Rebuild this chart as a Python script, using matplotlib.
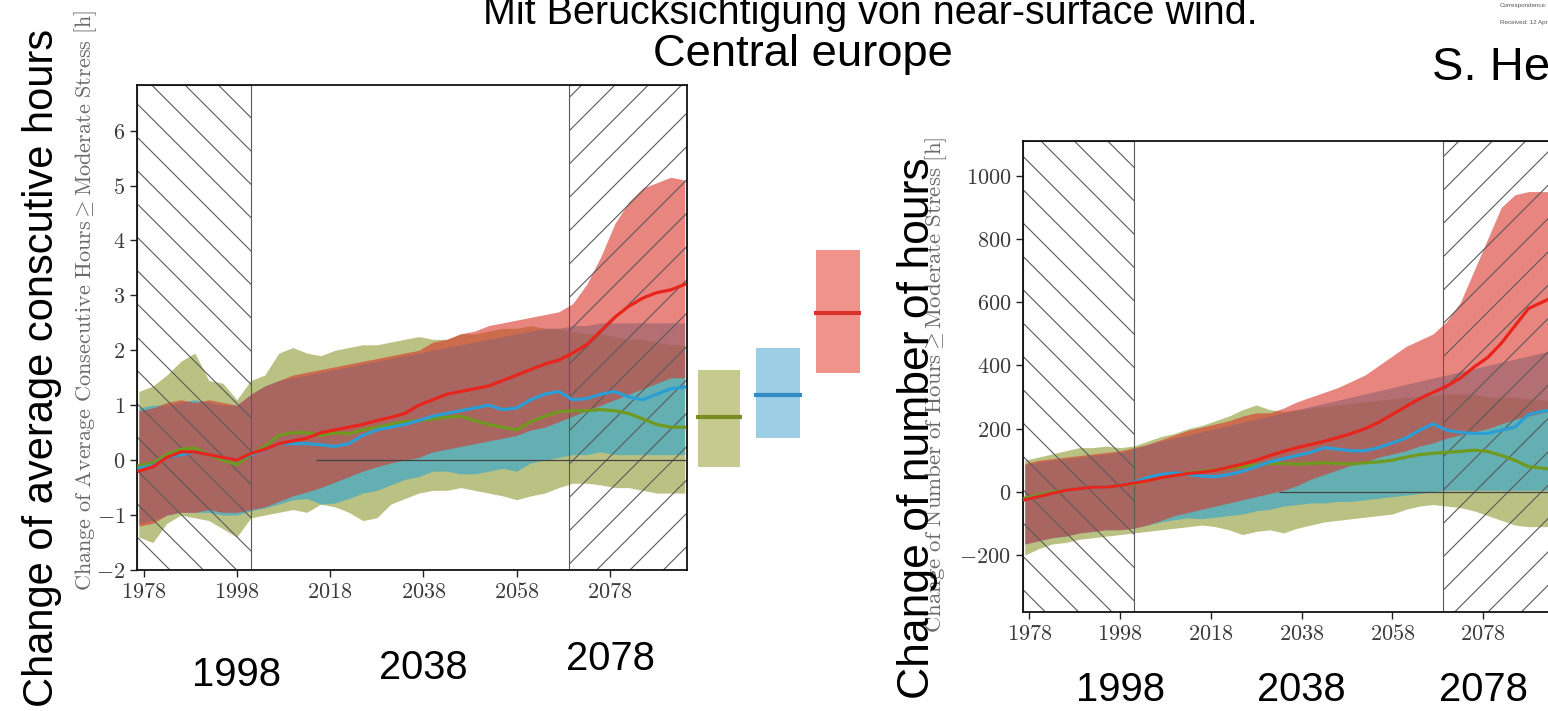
import numpy as np
import matplotlib
matplotlib.use('Agg')
import matplotlib.pyplot as plt
from matplotlib import font_manager
from matplotlib.ticker import FuncFormatter, MultipleLocator
from matplotlib.patches import Rectangle
from matplotlib.transforms import blended_transform_factory

plt.rcParams['mathtext.fontset'] = 'cm'
plt.rcParams['hatch.linewidth'] = 0.8

names = {f.name for f in font_manager.fontManager.ttflist}
NARROW = 'Liberation Sans Narrow' if 'Liberation Sans Narrow' in names else 'Liberation Sans'
SANS = 'Liberation Sans'

# ---------------- data ----------------
years = [1977, 1980, 1983, 1986, 1989, 1992, 1995, 1998, 2001, 2004,
         2007, 2010, 2013, 2016, 2019, 2022, 2025, 2028, 2031, 2034,
         2037, 2040, 2043, 2046, 2049, 2052, 2055, 2058, 2061, 2064,
         2067, 2070, 2073, 2076, 2079, 2082, 2085, 2088, 2091, 2094]

# left panel: average consecutive hours
cons_olive_lo = [-1.4, -1.5, -1.15, -1.0, -1.05, -1.1, -1.25, -1.4, -1.05, -1.0,
                 -0.95, -0.9, -0.95, -0.8, -0.85, -0.95, -1.1, -1.05, -0.8, -0.7,
                 -0.6, -0.55, -0.55, -0.5, -0.55, -0.6, -0.65, -0.72, -0.65, -0.6,
                 -0.5, -0.42, -0.42, -0.45, -0.5, -0.5, -0.55, -0.6, -0.6, -0.6]
cons_olive_hi = [1.25, 1.35, 1.55, 1.8, 1.95, 1.45, 1.4, 1.1, 1.45, 1.55,
                 1.95, 2.05, 1.95, 1.9, 2.0, 2.05, 2.1, 2.1, 2.15, 2.2,
                 2.25, 2.2, 2.2, 2.3, 2.3, 2.35, 2.4, 2.4, 2.45, 2.4,
                 2.4, 2.35, 2.3, 2.3, 2.25, 2.2, 2.2, 2.15, 2.1, 2.1]
cons_blue_lo = [-1.15, -1.1, -1.0, -0.95, -0.95, -0.95, -1.0, -1.0, -0.92, -0.87,
                -0.8, -0.72, -0.7, -0.8, -0.78, -0.7, -0.6, -0.55, -0.45, -0.35,
                -0.3, -0.2, -0.2, -0.25, -0.25, -0.2, -0.15, -0.2, -0.05, 0.0,
                0.05, 0.1, 0.1, 0.15, 0.1, 0.1, 0.1, 0.1, 0.1, 0.1]
cons_blue_hi = [0.95, 1.0, 1.0, 1.05, 1.1, 1.05, 1.0, 1.0, 1.2, 1.35,
                1.45, 1.5, 1.55, 1.6, 1.65, 1.7, 1.75, 1.8, 1.85, 1.9,
                1.95, 2.0, 2.05, 2.1, 2.15, 2.2, 2.25, 2.3, 2.35, 2.4,
                2.4, 2.45, 2.45, 2.5, 2.5, 2.5, 2.5, 2.5, 2.5, 2.5]
cons_red_lo = [-1.2, -1.15, -1.0, -0.95, -0.95, -0.9, -0.95, -0.95, -0.9, -0.85,
               -0.75, -0.65, -0.58, -0.5, -0.4, -0.3, -0.2, -0.12, -0.05, 0.0,
               0.05, 0.15, 0.2, 0.25, 0.3, 0.35, 0.4, 0.45, 0.55, 0.6,
               0.7, 0.8, 0.9, 1.0, 1.1, 1.2, 1.3, 1.4, 1.5, 1.5]
cons_red_hi = [0.9, 0.95, 1.05, 1.1, 1.05, 1.1, 1.05, 1.0, 1.2, 1.35,
               1.45, 1.55, 1.6, 1.65, 1.7, 1.75, 1.8, 1.85, 1.9, 1.95,
               2.0, 2.15, 2.2, 2.3, 2.35, 2.45, 2.5, 2.55, 2.6, 2.65,
               2.7, 2.85, 3.2, 3.7, 4.3, 4.7, 4.95, 5.05, 5.15, 5.1]
cons_olive = [-0.1, -0.05, 0.1, 0.2, 0.22, 0.1, 0.0, -0.08, 0.1, 0.25,
              0.45, 0.5, 0.5, 0.45, 0.5, 0.48, 0.55, 0.6, 0.65, 0.7,
              0.72, 0.75, 0.78, 0.8, 0.72, 0.65, 0.6, 0.55, 0.7, 0.8,
              0.88, 0.9, 0.9, 0.92, 0.9, 0.85, 0.75, 0.65, 0.6, 0.6]
cons_blue = [-0.15, -0.1, 0.05, 0.1, 0.15, 0.1, 0.05, 0.0, 0.1, 0.2,
             0.3, 0.3, 0.3, 0.28, 0.25, 0.3, 0.45, 0.55, 0.6, 0.65,
             0.72, 0.8, 0.85, 0.9, 0.95, 1.0, 0.92, 0.95, 1.1, 1.2,
             1.25, 1.1, 1.12, 1.2, 1.25, 1.15, 1.1, 1.2, 1.3, 1.33]
cons_red = [-0.2, -0.12, 0.05, 0.15, 0.15, 0.1, 0.05, 0.0, 0.12, 0.2,
            0.3, 0.35, 0.4, 0.5, 0.55, 0.6, 0.65, 0.72, 0.78, 0.85,
            1.0, 1.1, 1.2, 1.25, 1.3, 1.35, 1.45, 1.55, 1.65, 1.75,
            1.82, 1.95, 2.1, 2.35, 2.6, 2.8, 2.95, 3.05, 3.1, 3.2]

# end-of-century boxes (low, median, high) for olive, blue, red
box_lo = [-0.13, 0.40, 1.58]
box_med = [0.78, 1.18, 2.67]
box_hi = [1.64, 2.04, 3.82]

# right panel: number of hours
num_olive_lo = [-200, -180, -165, -160, -150, -145, -140, -135, -130, -125,
                -120, -115, -110, -105, -110, -120, -135, -125, -120, -130,
                -115, -105, -95, -90, -85, -80, -75, -70, -55, -45,
                -40, -45, -50, -60, -75, -90, -105, -110, -110, -110]
num_olive_hi = [100, 110, 120, 130, 140, 140, 145, 140, 145, 160,
                175, 185, 200, 210, 225, 240, 260, 275, 260, 255,
                260, 265, 270, 275, 280, 285, 290, 295, 300, 300,
                305, 310, 310, 310, 300, 300, 300, 295, 290, 290]
num_blue_lo = [-165, -155, -145, -140, -130, -125, -120, -120, -115, -105,
               -95, -88, -82, -85, -80, -75, -70, -60, -55, -45,
               -40, -35, -35, -30, -30, -25, -20, -15, -10, -5,
               0, 5, 5, 5, 5, 5, 5, 5, 5, 5]
num_blue_hi = [85, 95, 100, 105, 110, 115, 120, 125, 135, 150,
               160, 170, 180, 190, 200, 210, 220, 230, 240, 250,
               260, 270, 280, 290, 300, 310, 320, 330, 340, 350,
               360, 370, 380, 390, 400, 410, 420, 430, 440, 450]
num_red_lo = [-165, -155, -145, -140, -130, -125, -120, -120, -115, -105,
              -90, -75, -65, -55, -45, -35, -25, -15, -5, 5,
              20, 40, 55, 70, 85, 95, 110, 120, 130, 145,
              155, 170, 180, 190, 200, 215, 230, 240, 250, 260]
num_red_hi = [90, 100, 105, 110, 115, 120, 125, 130, 140, 150,
              165, 180, 195, 205, 215, 225, 240, 250, 250, 265,
              285, 300, 315, 330, 350, 370, 400, 430, 460, 480,
              500, 540, 600, 700, 800, 900, 940, 950, 950, 950]
num_olive = [-20, -10, 0, 5, 10, 15, 15, 20, 25, 35,
             45, 55, 60, 65, 70, 75, 80, 85, 90, 90,
             88, 90, 92, 90, 88, 92, 95, 100, 110, 118,
             122, 125, 128, 132, 128, 115, 100, 80, 75, 70]
num_blue = [-25, -15, -5, 5, 10, 15, 15, 20, 30, 45,
            55, 60, 55, 50, 48, 55, 65, 80, 95, 105,
            115, 125, 140, 135, 130, 130, 140, 155, 170, 195,
            215, 195, 188, 185, 185, 195, 205, 245, 255, 260]
num_red = [-25, -15, -5, 5, 10, 15, 15, 20, 28, 35,
           45, 52, 58, 62, 68, 78, 88, 100, 115, 128,
           140, 150, 160, 172, 185, 200, 220, 245, 270, 295,
           315, 335, 360, 395, 425, 470, 525, 580, 600, 620]

x_ticks = [1978, 1998, 2018, 2038, 2058, 2078]
big_years = ['1998', '2038', '2078']

# ---------------- styling ----------------
OLIVE_F, BLUE_F, RED_F = '#8c9a30', '#2aa3d2', '#d9342a'
OLIVE_L, BLUE_L, RED_L = '#6f9a1f', '#2c9ed6', '#e8251c'
BOX_F = ['#c6ca8e', '#9ecde6', '#f0938b']
BOX_L = ['#7a8c22', '#2f8cc4', '#d8322a']
XLIM = (1976.6, 2094.5)
HIST_END, FUT_START = 2001.0, 2069.1

W, H = 1548, 711
fig = plt.figure(figsize=(W / 100, H / 100), dpi=100)


def place(l, t, r, b):
    return fig.add_axes([l / W, 1 - b / H, (r - l) / W, (b - t) / H])


def draw_panel(ax, bands, means, ylim, ystep, zero_from):
    for (lo, hi), col in zip(bands, [OLIVE_F, BLUE_F, RED_F]):
        ax.fill_between(years, lo, hi, color=col, alpha=0.6, lw=0, zorder=1)
    ax.axvspan(XLIM[0], HIST_END, facecolor='none', edgecolor='#5a5a5a',
               hatch='\\', lw=0.8, zorder=2)
    ax.axvspan(FUT_START, XLIM[1], facecolor='none', edgecolor='#5a5a5a',
               hatch='/', lw=0.8, zorder=2)
    ax.hlines(0, zero_from, XLIM[1], color='#444444', lw=0.9, zorder=3)
    for m, col in zip(means, [OLIVE_L, BLUE_L, RED_L]):
        ax.plot(years, m, color=col, lw=2.3, zorder=4)
    ax.set_xlim(*XLIM)
    ax.set_ylim(*ylim)
    ax.set_xticks(x_ticks)
    ax.yaxis.set_major_locator(MultipleLocator(ystep))
    ax.xaxis.set_major_formatter(FuncFormatter(lambda v, p: r'$%d$' % v))
    ax.yaxis.set_major_formatter(FuncFormatter(lambda v, p: r'$%d$' % v))
    ax.tick_params(direction='out', length=5, width=1, labelsize=16,
                   colors='#222222', labelcolor='#3a3a3a')
    for s in ax.spines.values():
        s.set_linewidth(1.3)
        s.set_color('#111111')


ax1 = place(137, 85, 687, 570)
draw_panel(ax1,
           [(cons_olive_lo, cons_olive_hi), (cons_blue_lo, cons_blue_hi),
            (cons_red_lo, cons_red_hi)],
           [cons_olive, cons_blue, cons_red], (-2, 6.83), 1, 2015)

# boxes right of the left panel
box_x = [(2096.9, 2105.9), (2109.3, 2118.7), (2122.1, 2131.5)]
for (x0, x1), lo, med, hi, fc, lc in zip(box_x, box_lo, box_med, box_hi,
                                          BOX_F, BOX_L):
    ax1.add_patch(Rectangle((x0, lo), x1 - x0, hi - lo, facecolor=fc,
                            edgecolor='none', clip_on=False, zorder=1))
    ax1.plot([x0 - 0.4, x1 + 0.4], [med, med], color=lc, lw=3,
             clip_on=False, solid_capstyle='butt', zorder=2)

ax2 = place(1023, 141, 1558, 612)
draw_panel(ax2,
           [(num_olive_lo, num_olive_hi), (num_blue_lo, num_blue_hi),
            (num_red_lo, num_red_hi)],
           [num_olive, num_blue, num_red], (-380, 1110), 200, 2033)

# small serif axis labels
fig.text(86 / W, 1 - 300 / H,
         r'$\mathrm{Change\ of\ Average\ Consecutive\ Hours} \geq '
         r'\mathrm{Moderate\ Stress\ [h]}$',
         rotation=90, ha='center', va='center', fontsize=16, color='#6a6a6a')
fig.text(936 / W, 1 - 385 / H,
         r'$\mathrm{Change\ of\ Number\ of\ Hours} \geq '
         r'\mathrm{Moderate\ Stress\ [h]}$',
         rotation=90, ha='center', va='center', fontsize=16.5, color='#6a6a6a')

# big slide labels
fig.text(42 / W, 1 - 368 / H, 'Change of average conscutive hours',
         rotation=90, ha='center', va='center', fontsize=30, family=SANS)
fig.text(917 / W, 1 - 428 / H, 'Change of number of hours',
         rotation=90, ha='center', va='center', fontsize=32, family=SANS)

title = fig.text(870 / W, 1 - 24 / H,
                 'Mit Berücksichtigung von near-surface wind.',
                 ha='center', va='baseline', fontsize=34, family=NARROW)
sub = fig.text(803 / W, 1 - 66 / H, 'Central europe', ha='center',
               va='baseline', fontsize=32, family=SANS)
fig.text(1432 / W, 1 - 80 / H, 'S. He', ha='left', va='baseline',
         fontsize=34, family=SANS)
fig.text(1500 / W, 1 - 7 / H, 'Correspondence:', ha='left', va='baseline',
         fontsize=4.5, color='#555555', family=SANS)
fig.text(1500 / W, 1 - 24 / H, 'Received: 12 Apr', ha='left', va='baseline',
         fontsize=4.5, color='#555555', family=SANS)

# fit the slide texts to the widths seen in the reference
renderer = fig.canvas.get_renderer()


def fit_width(t, target):
    w = t.get_window_extent(renderer).width
    t.set_fontsize(t.get_fontsize() * target / w)


fit_width(title, 775)
fit_width(sub, 300)

# big year labels under each panel
for ax, bases in [(ax1, [686, 679, 670]), (ax2, [701, 701, 701])]:
    tr = blended_transform_factory(ax.transData, fig.transFigure)
    for lab, base in zip(big_years, bases):
        t = ax.text(int(lab), 1 - base / H, lab, transform=tr, ha='center',
                    va='baseline', fontsize=34, family=NARROW, clip_on=False)
        fit_width(t, 89)

fig.savefig('out.png', dpi=100, facecolor='white')
